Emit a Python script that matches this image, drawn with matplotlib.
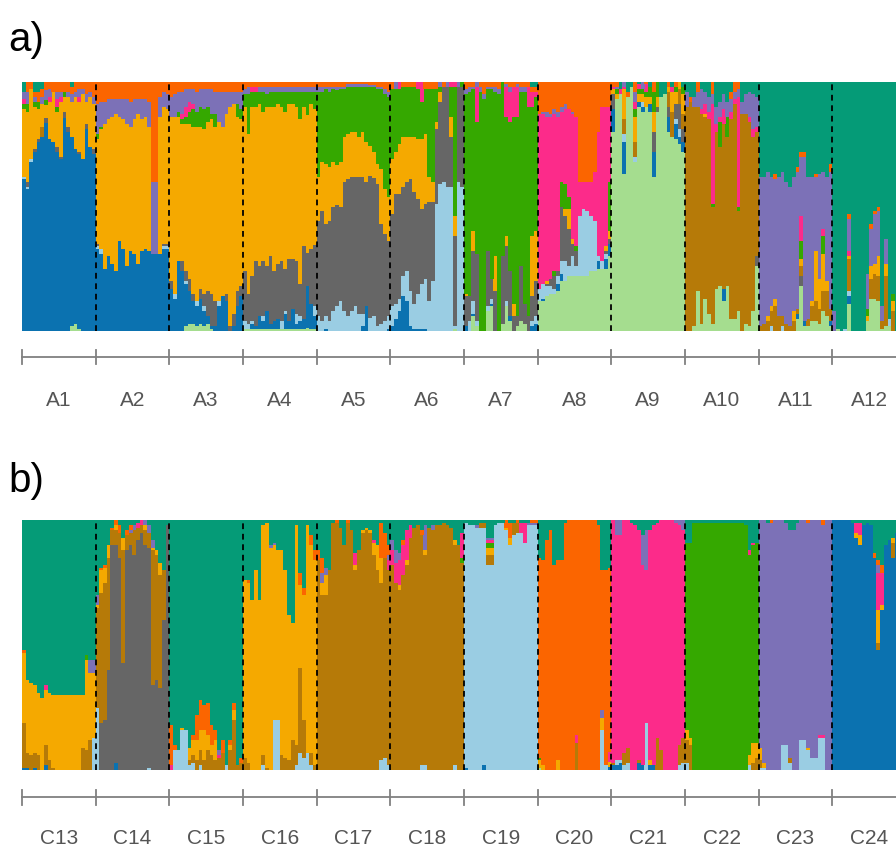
import numpy as np
import matplotlib.pyplot as plt

plt.rcParams['font.family'] = ['Liberation Sans', 'DejaVu Sans']

# cluster order, bottom of each bar to top
clusters = ['lg', 'bl', 'lb', 'gy', 'br', 'ye', 'gr', 'pk', 'pu', 'or', 'te']
colours = {
    'lg': '#a5dd8f', 'bl': '#0b72b0', 'lb': '#9acde3', 'gy': '#666666',
    'br': '#b67a08', 'ye': '#f5a900', 'gr': '#35a800', 'pk': '#fc2b8a',
    'pu': '#7c71b7', 'or': '#fb6500', 'te': '#059b77',
}

names_a = ['A1', 'A2', 'A3', 'A4', 'A5', 'A6', 'A7', 'A8', 'A9', 'A10', 'A11', 'A12']
names_b = ['C13', 'C14', 'C15', 'C16', 'C17', 'C18', 'C19', 'C20', 'C21', 'C22', 'C23', 'C24']

# membership (%) of each individual, 20 per population
A1 = {
    'lg': [0,0,0,0,0,0,0,0,0,0,0,0,0,2,3,1,0,0,0,0],
    'bl': [61,57,68,72,76,78,82,77,76,72,69,84,80,76,70,70,69,81,74,71],
    'lb': [1,1,1,0,0,0,0,0,0,0,0,0,0,0,0,0,0,0,0,0],
    'gy': [0,2,0,1,1,0,2,0,0,2,1,2,2,0,0,1,0,2,0,2],
    'br': [0,0,0,0,0,4,0,0,0,0,0,0,0,0,0,0,0,0,0,0],
    'ye': [27,28,28,17,12,9,5,15,20,14,22,6,12,14,21,20,26,9,20,18],
    'gr': [2,3,0,2,3,0,2,0,0,2,0,2,0,0,0,0,0,0,0,0],
    'pk': [2,0,0,0,0,0,0,2,0,3,2,0,0,0,0,2,0,0,0,0],
    'pu': [3,5,0,2,0,3,4,3,0,3,2,0,2,3,2,3,2,3,2,3],
    'or': [0,4,3,2,4,3,3,3,4,4,4,4,4,3,4,3,3,5,4,6],
    'te': [4,0,0,4,4,3,0,0,0,0,0,0,0,2,0,0,0,0,0,0],
}
A2 = {
    'bl': [33,31,25,30,27,24,36,33,26,32,31,27,32,33,32,31,31,31,33,33],
    'lb': [1,2,0,0,0,0,0,0,0,0,0,0,0,0,0,0,0,0,1,1],
    'gy': [1,0,0,0,0,0,0,0,0,0,0,0,0,0,0,0,0,0,1,1],
    'ye': [42,48,58,55,59,63,50,52,57,50,54,60,53,53,50,0,0,55,55,54],
    'gr': [2,1,0,0,0,0,0,0,0,0,0,0,0,0,0,0,0,0,0,0],
    'pu': [12,10,9,8,7,6,7,8,10,10,8,6,8,7,10,29,29,8,6,6],
    'or': [9,8,8,7,7,7,7,7,7,8,7,7,7,7,8,40,40,6,4,5],
}
A3 = {
    'lg': [0,0,0,0,2,3,3,2,3,2,3,1,0,0,0,0,0,0,0,0],
    'bl': [17,13,28,24,17,13,9,8,10,6,3,1,2,10,14,12,0,2,10,14],
    'lb': [0,2,0,0,1,0,0,2,0,2,0,0,0,2,0,0,0,0,0,0],
    'gy': [3,0,0,4,4,5,3,0,4,5,10,13,10,0,0,3,2,5,6,4],
    'ye': [66,71,58,55,59,62,67,70,65,66,68,70,70,72,68,72,88,84,70,67],
    'gr': [0,0,2,2,3,5,7,6,8,8,6,2,5,0,0,0,0,0,5,4],
    'pk': [0,0,0,2,4,4,2,0,0,0,0,0,0,0,0,0,0,0,0,0],
    'pu': [8,9,8,9,7,5,6,8,7,8,7,10,9,12,14,9,6,5,5,7],
    'or': [6,5,4,4,3,3,3,4,3,3,3,3,4,4,4,4,4,4,4,4],
}
A4 = {
    'lg': [1,1,1,1,1,1,1,1,1,1,1,1,1,1,1,1,1,1,1,1],
    'bl': [0,0,2,1,5,3,7,2,3,4,0,6,3,8,2,3,4,17,10,5],
    'lb': [3,2,1,0,0,2,0,0,0,0,3,1,0,0,4,2,0,0,0,4],
    'gy': [20,12,18,26,20,22,18,27,20,22,24,17,25,20,21,13,29,13,22,25],
    'ye': [66,64,68,62,65,60,64,60,66,64,62,63,62,62,62,66,56,55,58,55],
    'gr': [5,16,6,6,5,8,5,6,6,5,6,8,5,5,6,11,6,9,5,7],
    'pk': [0,0,2,2,0,0,0,0,0,0,0,0,0,0,0,0,0,0,0,0],
    'pu': [2,3,0,0,2,2,3,2,2,2,2,2,2,2,2,2,2,2,2,2],
    'or': [3,2,2,2,2,2,2,2,2,2,2,2,2,2,2,2,2,2,2,2],
}
A5 = {
    'bl': [0,0,1,0,0,0,0,0,0,0,0,0,2,10,0,0,0,0,0,1],
    'lb': [6,4,5,4,8,10,12,8,6,8,10,7,5,0,5,6,2,3,4,5],
    'gy': [38,44,37,40,42,40,38,52,55,54,52,55,55,50,56,55,57,40,35,30],
    'ye': [18,20,24,22,18,16,18,18,18,18,18,16,18,16,12,10,8,22,18,18],
    'gr': [34,28,30,30,29,30,29,19,19,18,18,20,18,22,23,26,30,32,38,40],
    'pu': [2,2,1,2,1,1,1,1,1,1,1,1,1,1,1,1,1,1,2,2],
    'or': [2,2,2,2,2,2,2,2,1,1,1,1,1,1,1,1,2,2,3,4],
}
A6 = {
    'lg': [0,0,0,0,0,0,0,0,0,0,0,0,0,0,0,0,0,1,0,0],
    'bl': [2,5,8,14,12,2,1,1,1,1,0,0,0,0,0,0,0,0,0,0],
    'lb': [8,6,5,8,12,14,10,14,18,20,12,20,51,59,60,58,58,1,60,58],
    'gy': [37,44,42,36,36,45,45,38,30,30,40,32,30,33,38,40,20,36,38,40],
    'ye': [22,17,20,20,18,17,22,24,28,28,10,8,3,4,0,0,8,8,0,0],
    'gr': [28,25,22,20,20,20,20,20,15,18,35,37,13,2,0,0,12,52,0,2],
    'pk': [0,0,3,0,0,0,0,3,8,0,0,0,0,0,0,0,2,2,0,0],
    'pu': [0,3,0,0,0,0,0,0,0,0,0,0,0,2,0,2,0,0,2,0],
    'or': [3,0,0,2,2,2,2,0,0,3,3,3,3,0,2,0,0,0,0,0],
}
A7 = {
    'lg': [0,0,6,2,0,0,8,10,0,0,3,10,4,0,2,4,3,0,0,0],
    'bl': [2,0,1,0,0,0,0,1,0,0,0,0,2,0,0,0,0,0,2,3],
    'lb': [0,4,5,2,0,0,2,2,0,0,0,2,0,0,0,0,0,0,2,3],
    'gy': [12,10,20,27,0,0,22,8,16,0,27,22,18,6,4,22,8,6,10,14],
    'ye': [1,0,8,0,0,0,0,0,14,0,0,4,0,5,0,0,0,0,24,20],
    'gr': [80,82,57,53,96,93,65,76,66,95,70,48,60,75,80,70,85,84,52,54],
    'pk': [0,0,0,14,0,0,0,0,0,0,0,12,12,12,12,0,0,8,6,2],
    'pu': [2,2,1,2,2,2,1,1,2,2,0,1,2,0,1,2,2,0,0,0],
    'or': [3,2,2,0,2,5,2,2,2,3,0,1,2,2,1,2,2,2,2,2],
    'te': [0,0,0,0,0,0,0,0,0,0,0,0,0,0,0,0,0,0,2,2],
}
A8 = {
    'lg': [12,12,14,15,15,16,20,20,22,22,22,22,22,22,24,24,25,25,25,30],
    'bl': [0,1,0,0,0,3,3,0,0,0,0,0,0,0,0,0,3,0,4,5],
    'lb': [5,6,4,3,2,3,5,8,4,8,4,24,27,26,22,20,2,3,2,0],
    'gy': [0,0,1,3,5,2,22,18,15,5,6,0,0,0,0,0,0,0,1,2],
    'ye': [0,0,1,0,0,0,0,3,8,2,0,0,0,0,0,0,0,0,2,3],
    'gr': [0,0,0,0,2,0,10,10,5,0,2,0,0,0,0,0,0,0,0,20],
    'pk': [70,68,66,65,63,62,28,30,35,50,52,14,11,12,14,20,50,62,56,30],
    'pu': [0,1,2,1,2,2,2,2,0,1,0,0,0,0,0,0,0,0,0,0],
    'or': [13,12,12,13,11,12,10,9,11,12,14,40,40,40,40,36,20,10,10,10],
}
A9 = {
    'lg': [80,93,95,63,94,98,68,90,88,90,88,62,88,94,95,80,78,77,75,72],
    'bl': [9,0,0,13,0,0,0,2,2,0,3,10,0,0,0,6,0,6,3,4],
    'lb': [0,0,0,3,0,0,2,0,2,0,0,0,0,0,0,0,0,2,3,0],
    'gy': [6,0,0,0,0,0,0,0,0,0,0,8,2,0,0,4,0,6,10,5],
    'br': [0,0,0,6,0,0,6,0,0,0,0,0,0,0,0,6,10,0,6,6],
    'ye': [2,2,0,12,0,0,10,3,3,4,3,8,4,0,0,2,8,5,3,8],
    'gr': [0,2,0,0,0,0,3,2,2,2,4,8,6,0,0,0,0,2,0,3],
    'pk': [1,0,2,1,0,0,3,2,0,3,0,0,0,0,0,0,2,0,0,0],
    'pu': [0,1,0,2,0,0,4,0,3,0,0,0,0,0,0,0,0,0,0,0],
    'or': [2,2,0,0,2,0,4,0,0,1,0,4,0,0,0,2,0,2,0,0],
    'te': [0,0,3,0,4,2,0,1,0,0,2,0,0,6,5,0,2,0,0,2],
}
A10 = {
    'lg': [0,0,2,16,3,13,7,3,17,18,12,18,5,5,8,0,3,2,8,26],
    'bl': [0,0,0,0,0,0,0,0,0,0,5,0,0,0,0,0,0,0,0,0],
    'gy': [0,0,0,0,0,0,0,0,0,0,0,0,0,0,0,0,0,0,0,4],
    'br': [90,92,88,74,84,73,78,47,63,56,66,60,80,86,40,87,84,82,70,50],
    'ye': [0,0,0,0,0,1,0,0,0,0,0,0,0,0,0,0,0,0,0,0],
    'gr': [0,0,0,0,0,0,0,1,0,10,0,8,0,0,2,0,0,0,0,0],
    'pk': [0,0,0,0,2,4,3,40,3,2,6,0,3,2,44,0,0,2,3,2],
    'pu': [6,0,4,6,8,5,6,4,7,6,6,6,5,3,3,5,8,10,14,12],
    'or': [0,2,0,4,0,0,0,5,0,0,0,0,3,4,3,0,0,0,0,0],
    'te': [4,6,6,0,3,4,6,0,10,8,5,8,4,0,0,8,5,4,5,6],
}
A11 = {
    'lg': [0,0,0,0,0,0,0,0,0,0,5,18,2,2,4,4,3,8,6,2],
    'bl': [0,0,0,0,0,0,0,0,0,0,2,0,2,0,0,0,0,0,0,2],
    'lb': [0,0,0,2,0,0,2,0,0,0,0,0,0,0,0,0,0,0,0,0],
    'gy': [0,0,0,0,0,0,0,0,0,0,0,4,0,0,0,0,0,0,0,0],
    'br': [2,3,4,6,10,6,4,3,2,4,2,4,0,3,6,8,6,8,10,5],
    'ye': [0,0,2,2,3,0,0,0,0,4,0,3,0,0,2,20,12,15,4,0],
    'gr': [0,0,0,0,0,0,0,0,0,0,0,7,0,0,0,0,0,7,0,0],
    'pk': [0,0,0,0,0,0,0,0,0,0,0,10,0,0,0,0,0,3,0,0],
    'pu': [60,59,58,52,48,56,58,57,56,54,55,24,66,57,50,30,42,23,42,55],
    'or': [0,0,0,0,2,0,0,0,0,0,2,2,2,0,0,1,0,0,0,3],
    'te': [38,38,36,38,37,38,36,40,42,38,34,28,28,38,38,37,37,36,38,33],
}
A12 = {
    'lg': [0,1,0,0,11,0,0,0,0,4,13,13,12,1,2,2,0,0,0,0],
    'bl': [0,0,0,0,3,0,0,0,0,0,0,0,0,0,0,0,0,0,0,0],
    'lb': [0,0,0,1,2,0,0,0,0,0,0,0,0,0,0,3,0,0,0,0],
    'br': [0,0,0,0,13,0,0,0,0,0,8,10,10,3,20,0,8,0,5,0],
    'ye': [0,0,0,0,1,0,0,0,0,2,5,4,8,0,5,0,4,0,0,0],
    'gr': [0,0,0,0,0,0,0,0,0,3,0,0,0,0,0,0,3,0,0,0],
    'pk': [0,0,0,0,2,0,0,0,0,0,0,0,0,0,0,0,0,0,0,0],
    'pu': [8,0,0,0,13,0,0,0,0,14,15,20,18,6,10,0,0,0,0,0],
    'or': [0,0,0,0,2,0,0,0,0,0,2,1,2,0,0,0,0,0,0,0],
    'te': [92,99,100,99,53,100,100,100,100,77,57,52,50,90,63,95,85,100,95,100],
}

C13 = {
    'bl': [1,1,0,1,0,0,2,0,0,0,0,0,0,0,0,0,0,0,0,0],
    'lb': [0,0,0,0,0,0,0,0,0,0,0,0,0,0,0,0,0,0,0,13],
    'br': [18,6,6,6,6,0,8,4,1,0,0,0,0,0,0,0,9,8,12,0],
    'ye': [28,29,29,27,25,29,22,27,29,30,30,30,30,30,30,30,21,36,27,26],
    'gr': [0,0,0,0,0,0,0,0,0,0,0,0,0,0,0,0,0,2,0,0],
    'pk': [0,0,0,0,0,0,2,0,0,0,0,0,0,0,0,0,0,0,0,0],
    'pu': [0,0,0,0,0,0,0,0,0,0,0,0,0,0,0,0,0,0,5,5],
    'or': [1,0,0,0,0,0,0,0,0,0,0,0,0,0,0,0,0,0,0,0],
    'te': [52,64,65,66,69,71,66,69,70,70,70,70,70,70,70,70,70,54,56,56],
}
C14 = {
    'bl': [0,0,0,0,0,3,0,0,0,0,0,0,0,0,0,0,0,0,0,0],
    'lb': [25,0,0,0,0,0,0,0,0,0,0,0,0,0,1,0,0,0,0,0],
    'gy': [0,19,20,40,90,87,85,43,88,90,86,92,95,90,88,34,36,33,60,98],
    'br': [40,52,55,45,6,6,10,45,6,5,10,5,3,6,6,54,50,45,20,0],
    'ye': [1,9,6,5,0,2,0,5,0,0,0,0,0,2,0,1,2,5,0,0],
    'pk': [0,0,0,0,0,0,0,0,0,0,0,2,2,0,0,0,0,0,0,0],
    'pu': [4,0,0,0,0,0,0,0,0,1,2,0,0,2,3,3,0,0,0,0],
    'or': [0,1,1,0,1,2,3,0,2,2,0,0,0,0,0,0,0,0,0,0],
    'te': [30,19,18,10,3,0,2,7,4,2,2,1,0,0,2,8,12,17,20,2],
}
C15 = {
    'lb': [0,8,8,16,16,2,3,0,2,0,0,0,0,0,0,2,0,0,0,0],
    'br': [0,0,0,0,0,2,3,4,6,4,8,6,4,5,7,0,8,20,2,3],
    'ye': [0,0,0,1,0,5,6,8,8,12,6,4,8,0,0,0,2,4,0,0],
    'pk': [2,0,0,0,0,0,0,0,0,0,0,0,0,1,0,0,0,0,0,0],
    'pu': [0,0,0,0,0,0,0,0,0,0,0,0,0,2,0,0,0,0,0,0],
    'or': [16,2,0,0,0,0,2,10,12,10,13,8,4,0,5,0,2,3,0,2],
    'te': [82,90,92,83,84,91,86,78,72,74,73,82,84,92,88,98,88,73,98,95],
}
C16 = {
    'lb': [0,0,0,0,0,2,0,0,20,20,0,0,0,0,2,7,5,7,2,0],
    'br': [5,3,0,0,0,4,1,0,0,0,6,5,4,12,8,34,15,0,5,2],
    'ye': [71,72,68,80,68,92,98,89,70,68,82,75,58,47,88,33,50,91,83,82],
    'pu': [0,0,0,0,0,0,0,1,1,0,0,0,0,0,0,0,0,0,0,0],
    'or': [0,1,0,0,0,0,0,0,0,0,0,0,0,0,0,5,3,0,4,4],
    'te': [24,24,32,20,32,2,1,10,9,12,12,20,38,41,2,21,27,2,6,12],
}
C17 = {
    'lb': [0,0,0,0,0,0,0,0,0,0,0,0,0,0,0,0,0,4,5,2],
    'br': [84,70,70,80,99,99,97,90,99,96,80,88,95,96,95,86,80,71,80,78],
    'ye': [0,5,8,0,0,0,0,0,0,0,2,0,1,1,1,5,10,10,0,0],
    'pk': [0,0,0,0,0,0,0,0,0,0,5,0,0,0,0,1,0,0,0,4],
    'pu': [0,4,3,0,0,0,0,0,0,0,0,0,0,0,0,0,0,0,0,2],
    'or': [4,6,0,0,0,1,0,0,1,0,0,0,0,0,0,0,0,14,10,4],
    'te': [12,15,19,20,1,0,3,10,0,4,13,12,4,3,4,8,10,1,5,10],
}
C18 = {
    'lb': [0,0,0,0,0,0,0,0,2,2,0,0,0,0,0,0,0,2,0,0],
    'br': [82,75,72,78,82,93,97,98,92,84,97,96,98,98,99,98,97,88,90,83],
    'ye': [0,0,2,0,2,0,0,0,0,2,0,0,0,0,0,0,0,2,0,0],
    'gr': [0,0,0,0,0,0,0,0,0,0,0,0,0,0,0,0,0,0,0,2],
    'pk': [6,8,10,12,12,5,0,0,0,0,0,0,0,0,0,0,0,0,0,10],
    'pu': [4,5,3,0,0,0,0,0,0,10,0,2,0,0,0,0,0,0,0,0],
    'or': [0,0,0,2,0,0,0,0,2,0,0,0,0,0,0,0,0,0,0,0],
    'te': [8,12,13,8,4,2,3,2,4,2,3,2,2,2,1,2,3,8,10,5],
}
C19 = {
    'bl': [1,0,0,0,0,2,0,0,0,0,0,0,0,0,0,0,0,0,0,0],
    'lb': [98,98,98,97,97,95,82,82,98,99,99,96,90,94,95,95,91,98,98,98],
    'br': [0,0,0,0,2,2,4,4,0,0,0,0,0,5,4,0,0,0,0,0],
    'ye': [0,0,0,0,0,0,3,3,0,0,0,1,3,0,0,0,0,0,0,0],
    'gr': [0,0,0,0,0,0,2,2,0,0,0,0,0,0,0,0,0,0,0,0],
    'pk': [0,0,0,0,0,0,1,1,0,0,0,0,0,0,0,4,8,0,0,0],
    'pu': [0,0,0,1,0,0,1,1,0,0,0,0,0,0,0,0,0,1,1,1],
    'or': [0,0,0,0,0,0,0,0,0,0,0,3,6,0,1,0,0,0,1,1],
    'te': [1,2,2,2,1,1,7,7,2,1,1,0,1,1,0,1,1,1,0,0],
}
C20 = {
    'lg': [1,0,0,0,0,0,0,0,0,0,0,0,0,0,0,0,0,0,0,0],
    'bl': [0,0,0,0,0,0,0,0,0,0,0,0,0,0,0,0,0,0,0,1],
    'lb': [0,0,0,0,0,0,0,0,0,0,0,0,0,0,0,0,0,16,2,0],
    'br': [0,0,0,0,0,0,0,0,0,0,11,0,0,0,0,0,0,0,0,0],
    'ye': [3,2,0,0,0,4,0,0,0,0,0,0,0,0,0,0,0,5,0,2],
    'gr': [1,0,0,0,0,0,0,0,0,0,0,0,0,0,0,0,0,0,0,0],
    'pk': [0,0,0,0,0,0,0,0,0,0,3,0,0,0,0,0,0,0,0,4],
    'pu': [0,0,0,0,0,0,0,0,0,0,0,0,0,0,0,0,0,3,0,0],
    'or': [80,82,92,96,82,80,84,99,100,100,86,100,100,100,100,100,98,56,78,73],
    'te': [15,16,8,4,18,16,16,1,0,0,0,0,0,0,0,0,2,20,20,19],
}
C21 = {
    'bl': [2,2,3,0,0,0,0,3,2,0,2,2,0,0,0,0,0,0,0,0],
    'lb': [0,2,1,2,3,0,0,0,0,19,0,0,0,0,0,0,0,0,2,3],
    'br': [1,0,0,5,6,0,0,1,0,0,0,0,13,8,0,0,0,0,8,10],
    'ye': [0,0,0,0,0,0,0,0,0,0,2,0,0,0,0,0,0,0,0,0],
    'pk': [97,90,90,93,91,99,98,92,80,61,92,96,86,92,100,100,100,99,88,83],
    'pu': [0,6,6,0,0,0,0,0,12,16,0,0,0,0,0,0,0,1,2,4],
    'te': [0,0,0,0,0,1,2,4,6,4,4,2,1,0,0,0,0,0,0,0],
}
C22 = {
    'lb': [3,0,0,0,0,0,0,0,0,0,0,0,0,0,0,0,0,2,0,0],
    'br': [9,10,0,0,0,0,0,0,0,0,0,0,0,0,0,0,0,0,3,5],
    'ye': [4,3,0,0,0,0,0,0,0,0,0,0,0,0,0,0,0,4,8,6],
    'gr': [75,78,99,99,99,99,99,99,99,99,99,99,99,99,99,99,98,80,79,80],
    'pk': [0,0,0,0,0,0,0,0,0,0,0,0,0,0,0,0,0,2,1,0],
    'te': [9,9,1,1,1,1,1,1,1,1,1,1,1,1,1,1,2,12,9,9],
}
C23 = {
    'lb': [1,1,0,0,0,0,10,10,3,0,0,12,12,8,5,5,13,13,0,0],
    'br': [3,0,0,0,0,0,0,0,2,0,0,0,0,0,0,0,0,0,0,0],
    'ye': [5,2,0,0,0,0,0,0,0,0,0,0,0,1,0,0,0,0,0,0],
    'pk': [0,0,0,0,0,0,0,0,0,0,0,0,0,0,0,0,1,1,0,0],
    'pu': [91,97,99,99,100,100,90,89,91,96,99,88,88,90,95,95,86,84,100,100],
    'or': [0,0,0,1,0,0,0,0,0,0,0,0,0,1,0,0,0,2,0,0],
    'te': [0,0,1,0,0,0,0,1,4,4,1,0,0,0,0,0,0,0,0,0],
}
C24 = {
    'bl': [100,100,100,100,100,99,93,90,98,99,98,85,48,64,90,92,85,95,96,95],
    'br': [0,0,0,0,0,0,0,0,0,0,0,0,3,0,0,0,6,0,0,0],
    'ye': [0,0,0,0,0,0,2,4,0,0,0,0,13,2,0,0,2,0,0,0],
    'pk': [0,0,0,0,0,0,4,5,0,0,0,0,15,13,0,0,0,0,0,0],
    'pu': [0,0,0,0,0,0,0,0,0,0,0,0,3,0,0,0,0,0,0,0],
    'or': [0,0,0,0,0,0,0,0,0,0,0,2,2,3,0,0,0,0,0,0],
    'te': [0,0,0,0,0,1,1,1,2,1,2,13,16,18,10,8,7,5,4,5],
}

pops_a = [A1, A2, A3, A4, A5, A6, A7, A8, A9, A10, A11, A12]
pops_b = [C13, C14, C15, C16, C17, C18, C19, C20, C21, C22, C23, C24]


def draw_panel(ax, pops, names, y_line, y_text):
    for j, pop in enumerate(pops):
        n = len(next(iter(pop.values())))
        q = np.zeros((len(clusters), n))
        for k, v in pop.items():
            q[clusters.index(k)] = v
        q = q / q.sum(axis=0)
        x = j + (np.arange(n) + 0.5) / n
        base = np.zeros(n)
        for i, c in enumerate(clusters):
            ax.bar(x, q[i], width=1.03 / n, bottom=base, color=colours[c],
                   linewidth=0, antialiased=False)
            base += q[i]
    for j in range(1, len(pops)):
        ax.plot([j, j], [0, 1], color='black', lw=1.3, ls=(0, (3.2, 2.6)))
    ax.set_xlim(0, len(pops))
    ax.set_ylim(0, 1)
    ax.axis('off')

    # population scale below the bars
    tr = ax.get_xaxis_transform()
    ax.plot([0, len(pops)], [y_line, y_line], color='#808080', lw=1.3,
            transform=tr, clip_on=False)
    for j in range(len(pops) + 1):
        ax.plot([j, j], [y_line + 0.029, y_line - 0.029], color='#808080',
                lw=1.3, transform=tr, clip_on=False)
    for j, nm in enumerate(names):
        ax.text(j + 0.5, y_text, nm, transform=tr, ha='center', va='center',
                fontsize=15, color='#555555')


W, H = 896, 851
fig = plt.figure(figsize=(W / 100, H / 100), dpi=100)
ax_a = fig.add_axes([22 / W, 520 / H, 884 / W, 249 / H])
ax_b = fig.add_axes([22 / W, 81 / H, 884 / W, 250 / H])

draw_panel(ax_a, pops_a, names_a, -0.104, -0.281)
draw_panel(ax_b, pops_b, names_b, -0.109, -0.272)

fig.text(8 / W, 1 - 40 / H, 'a)', fontsize=29, va='center', ha='left')
fig.text(8 / W, 1 - 481 / H, 'b)', fontsize=29, va='center', ha='left')

fig.savefig('out.png', dpi=100)
